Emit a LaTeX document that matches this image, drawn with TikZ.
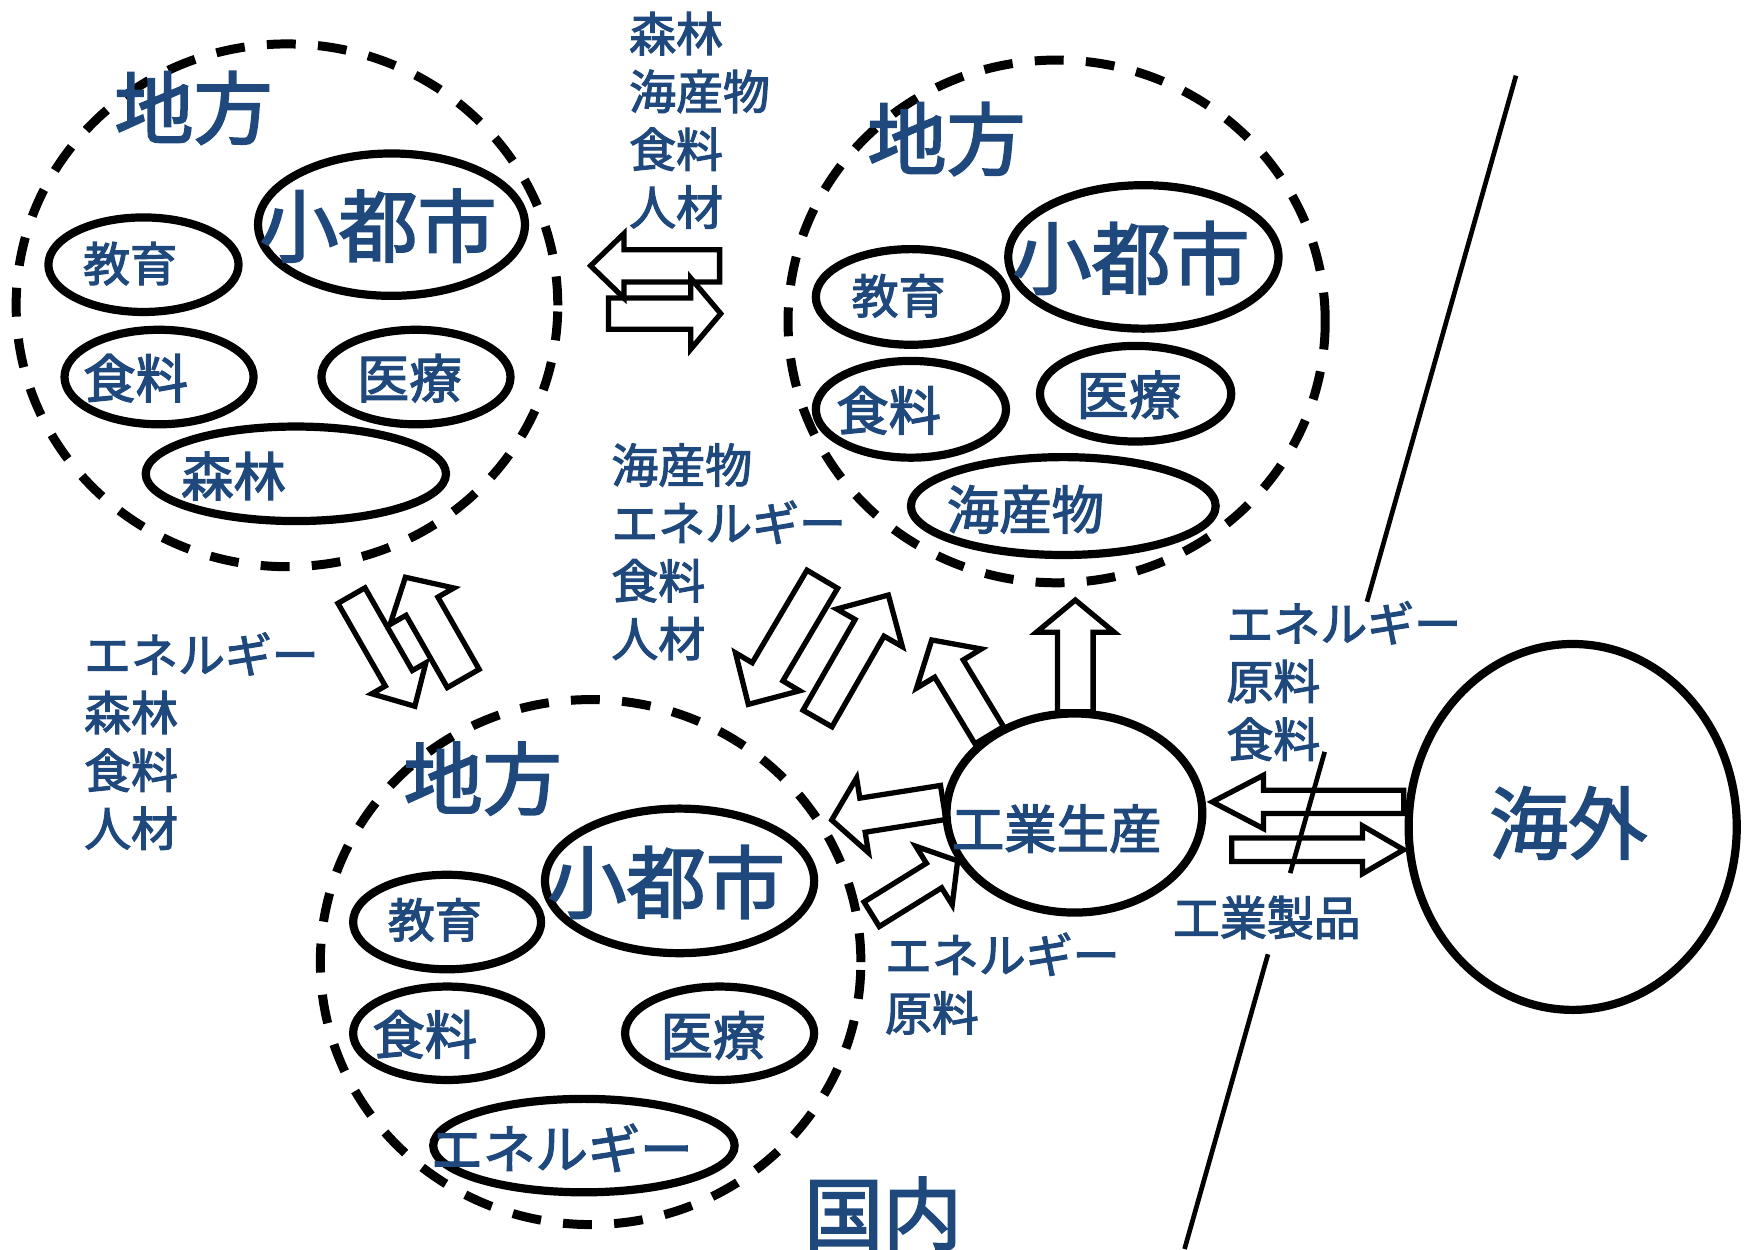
\documentclass[tikz,border=0pt]{standalone}
\usepackage{fontspec}
\setmainfont[FakeBold=2.4]{Noto Sans CJK JP}
\usepackage{xcolor}
\usetikzlibrary{calc,shapes.geometric}
\definecolor{txtblue}{RGB}{31,73,125}
% block arrow: tail, tip, half shaft, half head, head length
\newcommand{\blockarrow}[5]{%
  \draw[blk] ($(#1)!#3!90:(#2)$) -- ($(#2)!#5!(#1)!#3!90:(#2)$)
    -- ($(#2)!#5!(#1)!#4!90:(#2)$) -- (#2)
    -- ($(#2)!#5!(#1)!#4!-90:(#2)$) -- ($(#2)!#5!(#1)!#3!-90:(#2)$)
    -- ($(#1)!#3!-90:(#2)$) -- cycle;}

\begin{document}
\begin{tikzpicture}[line join=miter,x=0.1mm,y=-0.1mm,
  region/.style={draw,ellipse,line width=2.3pt,dash pattern=on 2.6mm off 2mm,inner sep=0pt},
  cell/.style={draw,ellipse,line width=2.1pt,inner sep=0pt},
  bigtxt/.style={text=txtblue,inner sep=0pt,font=\fontsize{20.2}{24}\selectfont},
  celltxt/.style={text=txtblue,inner sep=0pt,font=\fontsize{13.4}{16}\selectfont},
  smalltxt/.style={text=txtblue,inner sep=0pt,font=\fontsize{12}{14.8}\selectfont},
  flowtxt/.style={smalltxt,anchor=north west,align=left},
  blk/.style={draw,line width=1.35pt},
  border/.style={line width=1.2pt}]
\useasboundingbox (0,0) rectangle (1568,1123);

% left region
\node[region,minimum width=48.7mm,minimum height=47mm] (westreg) at (258,274.5) {};
\node[cell,minimum width=24mm,minimum height=12.8mm] (westcity) at (352,202) {};
\node[cell,minimum width=17.1mm,minimum height=8.5mm] (westedu) at (129,238) {};
\node[cell,minimum width=17mm,minimum height=8.5mm] (westfood) at (143,339) {};
\node[cell,minimum width=17mm,minimum height=8.5mm] (westmed) at (374,339) {};
\node[cell,minimum width=27mm,minimum height=8.5mm] (westforest) at (266,426) {};
\node[bigtxt] (westtitle) at (174,97) {地方};
\node[bigtxt] (westcityT) at (340,203) {小都市};
\node[smalltxt] (westeduT) at (117,237) {教育};
\node[celltxt] (westfoodT) at (122,340) {食料};
\node[celltxt] (westmedT) at (368,340) {医療};
\node[celltxt] (westforestT) at (210,428) {森林};

% right region
\node[region,minimum width=48.3mm,minimum height=47mm] (eastreg) at (950,289) {};
\node[cell,minimum width=24.3mm,minimum height=12.9mm] (eastcity) at (1028,231) {};
\node[cell,minimum width=17.1mm,minimum height=8.6mm] (eastedu) at (819,267) {};
\node[cell,minimum width=17.1mm,minimum height=8.7mm] (eastfood) at (819,368) {};
\node[cell,minimum width=17.2mm,minimum height=8.6mm] (eastmed) at (1021,354) {};
\node[cell,minimum width=27.4mm,minimum height=8.8mm] (eastsea) at (956,455) {};
\node[bigtxt] (easttitle) at (851,125) {地方};
\node[bigtxt] (eastcityT) at (1017,232) {小都市};
\node[smalltxt] (easteduT) at (808,266) {教育};
\node[celltxt] (eastfoodT) at (799,369) {食料};
\node[celltxt] (eastmedT) at (1015,355) {医療};
\node[celltxt] (eastseaT) at (922,458) {海産物};

% south region
\node[region,minimum width=48.6mm,minimum height=47.2mm] (southreg) at (531,865) {};
\node[cell,minimum width=24.2mm,minimum height=13mm] (southcity) at (611,792) {};
\node[cell,minimum width=16.9mm,minimum height=8.5mm] (southedu) at (402,829) {};
\node[cell,minimum width=16.9mm,minimum height=8.4mm] (southfood) at (402,929) {};
\node[cell,minimum width=17mm,minimum height=8.4mm] (southmed) at (647,929) {};
\node[cell,minimum width=27.1mm,minimum height=8.4mm] (southenergy) at (525,1030) {};
\node[bigtxt] (southtitle) at (434,700) {地方};
\node[bigtxt] (southcityT) at (599,793) {小都市};
\node[smalltxt] (southeduT) at (391,827) {教育};
\node[celltxt] (southfoodT) at (382,930) {食料};
\node[celltxt] (southmedT) at (641,931) {医療};
\node[celltxt] (southenergyT) at (505,1032) {エネルギー};

% industry and abroad
\node[cell,minimum width=23mm,minimum height=17.9mm] (industry) at (966,731) {};
\node[celltxt] (industryT) at (950,745) {工業生産};
\node[cell,minimum width=29.5mm,minimum height=32.9mm] (abroad) at (1414,743.5) {};
\node[bigtxt] (abroadT) at (1410,740) {海外};
\node[bigtxt] (domesticT) at (794,1091) {国内};

% flow labels
\node[flowtxt] (flowtop) at (565,10) {森林\\海産物\\食料\\人材};
\node[flowtxt] (flowmid) at (549,398) {海産物\\エネルギー\\食料\\人材};
\node[flowtxt] (flowleft) at (75,568) {エネルギー\\森林\\食料\\人材};
\node[flowtxt] (flowimport) at (1102,540) {エネルギー\\原料\\食料};
\node[flowtxt] (flowsouth) at (795,838) {エネルギー\\原料};
\node[smalltxt] (flowexport) at (1139,825) {工業製品};

% border line
\coordinate (lnA) at (1363,68);
\coordinate (lnB) at (1229,541);
\coordinate (lnC) at (1191,676);
\coordinate (lnD) at (1160,785);
\coordinate (lnE) at (1140,858);
\coordinate (lnF) at (1065,1123);
\draw[border] (lnA) -- (lnB) (lnC) -- (lnD) (lnE) -- (lnF);

% block arrows
\coordinate (topLtail) at (647,239);
\coordinate (topLtip) at (531,239);
\coordinate (topRtail) at (547,282);
\coordinate (topRtip) at (648,282);
\coordinate (leftDtail) at (316,535.5);
\coordinate (leftDtip) at (373,635);
\coordinate (leftUtail) at (416.5,610);
\coordinate (leftUtip) at (364.5,519);
\coordinate (midDtail) at (739.3,520.8);
\coordinate (midDtip) at (672.8,633.3);
\coordinate (midUtail) at (735,646);
\coordinate (midUtip) at (798.7,535);
\coordinate (indUtail) at (966.8,640);
\coordinate (indUtip) at (966.8,539.5);
\coordinate (indNtail) at (889.4,661);
\coordinate (indNtip) at (837.7,575.4);
\coordinate (indWtail) at (848,721.5);
\coordinate (indWtip) at (747.8,737.3);
\coordinate (indItail) at (783.7,822);
\coordinate (indItip) at (861,774);
\coordinate (impTail) at (1262,721);
\coordinate (impTip) at (1090,721);
\coordinate (expTail) at (1107.5,764);
\coordinate (expTip) at (1262,764);
\blockarrow{topLtail}{topLtip}{1.45mm}{2.9mm}{3mm}
\blockarrow{topRtail}{topRtip}{1.4mm}{3.2mm}{2.7mm}
\blockarrow{leftDtail}{leftDtip}{1.4mm}{2.8mm}{2.9mm}
\blockarrow{leftUtail}{leftUtip}{1.65mm}{3.3mm}{3mm}
\blockarrow{midDtail}{midDtip}{1.6mm}{3.35mm}{3.4mm}
\blockarrow{midUtail}{midUtip}{1.5mm}{3.4mm}{3.4mm}
\blockarrow{indUtail}{indUtip}{1.6mm}{3.5mm}{2.9mm}
\blockarrow{indNtail}{indNtip}{1.5mm}{3.4mm}{3mm}
\blockarrow{indWtail}{indWtip}{1.55mm}{3.4mm}{2.8mm}
\blockarrow{indItail}{indItip}{1.3mm}{3.1mm}{2.5mm}
\blockarrow{impTail}{impTip}{1.05mm}{2.4mm}{4.6mm}
\blockarrow{expTail}{expTip}{1.05mm}{2.15mm}{3.7mm}
\end{tikzpicture}
\end{document}
